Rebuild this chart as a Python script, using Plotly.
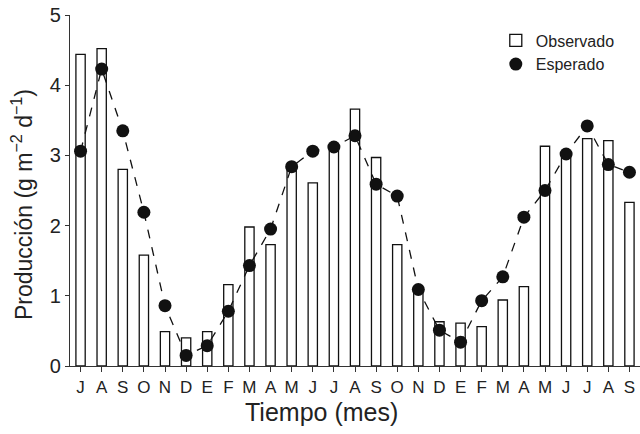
import plotly.graph_objects as go

months = ["J", "A", "S", "O", "N", "D", "E", "F", "M", "A", "M", "J", "J", "A",
          "S", "O", "N", "D", "E", "F", "M", "A", "M", "J", "J", "A", "S"]
observado = [4.44, 4.52, 2.80, 1.58, 0.49, 0.40, 0.49, 1.16, 1.98, 1.73, 2.84, 2.61,
             3.10, 3.66, 2.97, 1.73, 1.08, 0.63, 0.61, 0.56, 0.94, 1.13, 3.13, 3.00,
             3.24, 3.21, 2.33]
esperado = [3.06, 4.23, 3.35, 2.19, 0.86, 0.15, 0.29, 0.78, 1.43, 1.95, 2.84, 3.06,
            3.12, 3.28, 2.59, 2.42, 1.09, 0.51, 0.34, 0.93, 1.27, 2.12, 2.50, 3.02,
            3.42, 2.87, 2.76]

x = list(range(len(months)))
FONT = "Liberation Sans Narrow, Arial Narrow, Liberation Sans, Arial, sans-serif"
INK = "#111111"

fig = go.Figure()
fig.add_trace(go.Bar(
    x=x, y=observado, name="Observado", width=0.44,
    marker=dict(color="white", line=dict(color=INK, width=1.3)),
))
fig.add_trace(go.Scatter(
    x=x, y=esperado, name="Esperado", mode="lines", showlegend=False,
    line=dict(color=INK, width=1.3, dash="dash"),
))
fig.add_trace(go.Scatter(
    x=x, y=esperado, name="Esperado", mode="markers",
    marker=dict(color=INK, size=13),
))

fig.update_layout(
    width=640, height=434,
    margin=dict(l=70, r=0, t=15, b=68),
    plot_bgcolor="white", paper_bgcolor="white",
    font=dict(family=FONT, size=17, color="#222222"),
    showlegend=True,
    legend=dict(x=0.747, y=0.976, xanchor="left", yanchor="top",
                bgcolor="rgba(0,0,0,0)", font=dict(size=16), tracegroupgap=0),
    xaxis=dict(
        range=[-0.5, 26.5], tickmode="array", tickvals=x, ticktext=months,
        showline=True, linecolor="#333333", linewidth=1.2,
        ticks="outside", ticklen=5, tickcolor="#333333", tickwidth=1.2,
        showgrid=False, zeroline=False, automargin=False,
        tickfont=dict(size=17),
    ),
    yaxis=dict(
        range=[0, 5], dtick=1, showline=True, linecolor="#333333", linewidth=1.2,
        ticks="outside", ticklen=4, tickcolor="#333333", tickwidth=1.2,
        showgrid=False, zeroline=False, automargin=False,
        tickfont=dict(size=20),
    ),
    annotations=[
        dict(text="Tiempo (mes)", xref="paper", yref="paper", x=0.442, y=0,
             xanchor="center", yanchor="middle", yshift=-46, showarrow=False,
             font=dict(size=25)),
        dict(text="Producción (g m<sup>\u22122</sup> d<sup>\u22121</sup>)",
             xref="paper", yref="paper", x=-0.0842, y=0.4585, textangle=-90,
             xanchor="center", yanchor="middle", showarrow=False,
             font=dict(size=23)),
    ],
)

fig.write_html("out.html", config={"displayModeBar": False},
               post_script="document.body.style.margin='0';document.body.style.padding='0';")
